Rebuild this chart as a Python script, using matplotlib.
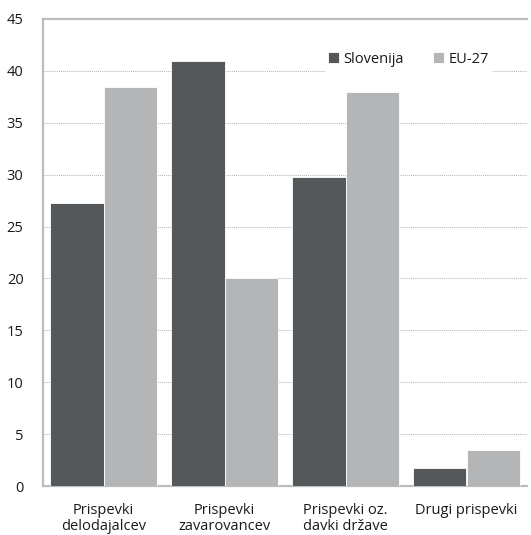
import matplotlib
matplotlib.use("Agg")
import matplotlib.pyplot as plt
import numpy as np

categories = ["Prispevki\ndelodajalcev", "Prispevki\nzavarovancev", "Prispevki oz.\ndavki države", "Drugi prispevki"]
slovenija = [27.3, 41.0, 29.8, 1.7]
eu27 = [38.4, 20.0, 38.0, 3.5]
yticks = [0, 5, 10, 15, 20, 25, 30, 35, 40, 45]

plt.rcParams['font.family'] = ['Open Sans', 'DejaVu Sans']

fig = plt.figure(figsize=(5.31, 5.35), dpi=100)
ax = fig.add_axes([43/531, 1-486/535, (527-43)/531, (486-19)/535])

x = np.arange(len(categories))
w = 0.44
ax.bar(x - w/2, slovenija, w, color="#55585b", edgecolor="white", linewidth=0.6, label="Slovenija", zorder=3)
ax.bar(x + w/2, eu27, w, color="#b4b5b7", edgecolor="white", linewidth=0.6, label="EU-27", zorder=3)

ax.set_xlim(-0.5, len(categories) - 0.5)
ax.set_ylim(0, 45)
ax.set_yticks(yticks)
ax.set_xticks(x)
ax.set_xticklabels(categories, fontsize=10.5, linespacing=1.12, color="#1a1a1a")
ax.tick_params(axis='y', length=0, pad=14, labelsize=10.5, labelcolor="#1a1a1a")
ax.tick_params(axis='x', length=0, pad=12)
for lab in ax.get_yticklabels():
    lab.set_horizontalalignment('right')

ax.yaxis.grid(True, linestyle=(0, (1, 1)), color="#b4b4b4", linewidth=0.7, zorder=0)
ax.set_axisbelow(True)
for s in ["left", "bottom", "top"]:
    ax.spines[s].set_color("#bcbcbc")
    ax.spines[s].set_linewidth(1.6)
ax.spines["right"].set_visible(False)

leg = ax.legend(loc="upper right", bbox_to_anchor=(0.945, 0.955), ncol=2, frameon=True,
                fontsize=10.5, handlelength=0.75, handleheight=0.75, handletextpad=0.3,
                columnspacing=2.0, borderpad=0.3)
leg.get_frame().set_facecolor("white")
leg.get_frame().set_edgecolor("white")
leg.get_frame().set_alpha(1)
for t in leg.get_texts():
    t.set_color("#1a1a1a")

fig.savefig("out.png", dpi=100)
